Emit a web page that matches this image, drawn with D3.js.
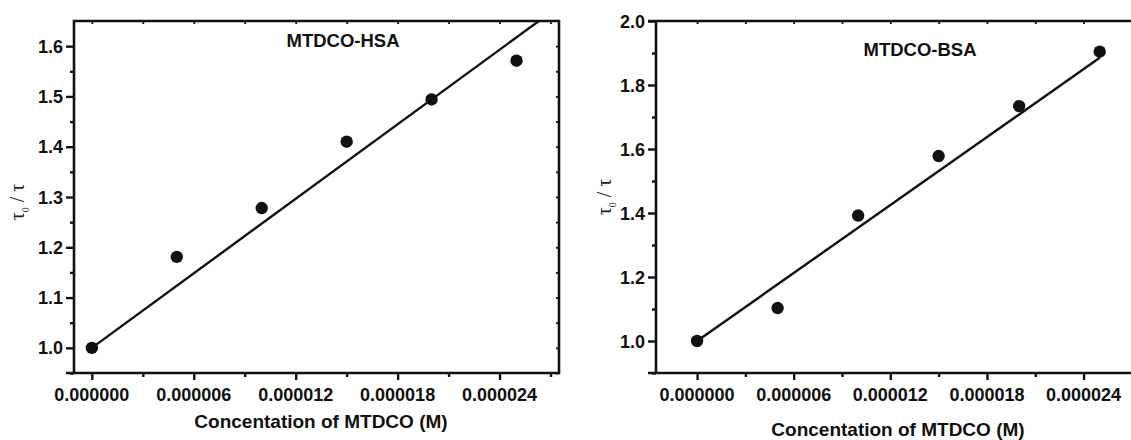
<!DOCTYPE html>
<html>
<head>
<meta charset="utf-8">
<script src="https://cdn.jsdelivr.net/npm/d3@7"></script>
<style>
  html, body { margin: 0; padding: 0; background: #fff; }
  svg { display: block; }
  svg text.lbl { font-family: "Liberation Sans", Arial, Helvetica, sans-serif; font-weight: 700; fill: #111; }
</style>
</head>
<body>
<svg id="chart" width="1131" height="440"></svg>
<script>
// MTDCO concentration (M) for each measurement
const concentration = [0, 5e-6, 10e-6, 15e-6, 20e-6, 25e-6];
// Lifetime ratio tau0/tau for each protein
const hsaRatio = [1.0, 1.181, 1.278, 1.410, 1.494, 1.571];
const bsaRatio = [1.0, 1.103, 1.392, 1.578, 1.734, 1.904];
// Stern–Volmer fit lines: tau0/tau = 1 + Ksv [Q]
const hsaKsv = 2.47e4;
const bsaKsv = 3.54e4;
// x tick values (labelled) and y tick values
const xMajorTicks = [0, 6e-6, 12e-6, 18e-6, 24e-6];
const xMinorTicks = [3e-6, 9e-6, 15e-6, 21e-6, 27e-6];
const hsaYMajor = [1.0, 1.1, 1.2, 1.3, 1.4, 1.5, 1.6];
const hsaYMinor = [0.95, 1.05, 1.15, 1.25, 1.35, 1.45, 1.55];
const bsaYMajor = [1.0, 1.2, 1.4, 1.6, 1.8, 2.0];
const bsaYMinor = [0.9, 1.1, 1.3, 1.5, 1.7, 1.9];

const INK = "#111";
const svg = d3.select("#chart");

function inkLines(sel, w) {
  sel.attr("stroke", INK).attr("stroke-width", w);
}
// tick marks only, drawn by d3's axis generator
function tickAxis(g, axis) {
  g.call(axis);
  g.select(".domain").remove();
  g.selectAll(".tick text").remove();
  inkLines(g.selectAll(".tick line"), 2.4);
  return g;
}

const panels = [
  {
    id: "hsa", title: "MTDCO-HSA", values: hsaRatio, ksv: hsaKsv,
    xDomain: [-1.05e-6, 27.5e-6], xRange: [74, 559],
    yDomain: [0.95, 1.65], yRange: [373, 21],
    yMajor: hsaYMajor, yMinor: hsaYMinor,
    fitEnd: 27.5e-6, boxRight: true,
    titlePos: [343, 47], xTitlePos: [321, 428], yTitlePos: [17, 202]
  },
  {
    id: "bsa", title: "MTDCO-BSA", values: bsaRatio, ksv: bsaKsv,
    xDomain: [-2.55e-6, 28e-6], xRange: [656, 1148],
    yDomain: [0.9, 2.0], yRange: [373, 21],
    yMajor: bsaYMajor, yMinor: bsaYMinor,
    fitEnd: 25e-6, boxRight: false,
    titlePos: [920, 56], xTitlePos: [898, 436], yTitlePos: [604, 197]
  }
];

panels.forEach(p => {
  const x = d3.scaleLinear().domain(p.xDomain).range(p.xRange);
  const y = d3.scaleLinear().domain(p.yDomain).range(p.yRange);
  const g = svg.append("g").attr("class", "panel-" + p.id);
  const [x0, x1] = p.xRange;
  const [yb, yt] = p.yRange;

  // clip region for the plot area
  const clipId = "clip-" + p.id;
  svg.append("clipPath").attr("id", clipId)
    .append("rect").attr("x", x0).attr("y", yt).attr("width", x1 - x0).attr("height", yb - yt);

  // bottom axis ticks
  tickAxis(g.append("g").attr("transform", `translate(0,${yb})`),
    d3.axisBottom(x).tickValues(xMajorTicks).tickSize(7));
  tickAxis(g.append("g").attr("transform", `translate(0,${yb})`),
    d3.axisBottom(x).tickValues(xMinorTicks.filter(v => x(v) <= x1 + 1)).tickSize(4));
  // bottom tick labels
  g.append("g").selectAll("text").data(xMajorTicks).join("text")
    .attr("class", "lbl").attr("font-size", 18)
    .attr("x", d => x(d)).attr("y", yb + 28).attr("text-anchor", "middle")
    .text(d => d.toFixed(6));

  // left axis ticks
  tickAxis(g.append("g").attr("transform", `translate(${x0},0)`),
    d3.axisLeft(y).tickValues(p.yMajor).tickSize(8));
  tickAxis(g.append("g").attr("transform", `translate(${x0},0)`),
    d3.axisLeft(y).tickValues(p.yMinor).tickSize(4));
  // left tick labels
  g.append("g").selectAll("text").data(p.yMajor).join("text")
    .attr("class", "lbl").attr("font-size", 18)
    .attr("x", x0 - 11).attr("y", d => y(d) + 6.5).attr("text-anchor", "end")
    .text(d3.format(".1f"));

  // top axis: small inward ticks
  inkLines(tickAxis(g.append("g").attr("transform", `translate(0,${yt})`),
    d3.axisBottom(x).tickValues(xMajorTicks.concat(xMinorTicks).filter(v => x(v) <= x1)).tickSize(3))
    .selectAll(".tick line"), 1.8);

  if (p.boxRight) {
    inkLines(tickAxis(g.append("g").attr("transform", `translate(${x1},0)`),
      d3.axisLeft(y).tickValues(p.yMajor.concat(p.yMinor)).tickSize(3))
      .selectAll(".tick line"), 1.8);
  }

  // frame lines
  const frame = g.append("g").attr("fill", "none");
  frame.append("line").attr("x1", x0).attr("x2", x0).attr("y1", yt - 1).attr("y2", yb + 1);
  frame.append("line").attr("x1", x0 - 8).attr("x2", x1 + 1).attr("y1", yb).attr("y2", yb);
  frame.append("line").attr("x1", x0 - (p.boxRight ? 1 : 8)).attr("x2", x1 + 1).attr("y1", yt).attr("y2", yt);
  if (p.boxRight) {
    frame.append("line").attr("x1", x1).attr("x2", x1).attr("y1", yt - 1).attr("y2", yb + 1);
  }
  inkLines(frame.selectAll("line"), 2.6);

  // fitted line
  const fit = [0, p.fitEnd].map(c => [c, 1 + p.ksv * c]);
  g.append("path")
    .attr("clip-path", `url(#${clipId})`)
    .attr("d", d3.line().x(d => x(d[0])).y(d => y(d[1]))(fit))
    .attr("stroke", INK).attr("stroke-width", 2.4).attr("fill", "none");

  // data points
  g.append("g").selectAll("circle")
    .data(concentration.map((c, i) => [c, p.values[i]]))
    .join("circle")
    .attr("cx", d => x(d[0])).attr("cy", d => y(d[1]))
    .attr("r", 6.2).attr("fill", INK);

  // panel title
  g.append("text").attr("class", "lbl").attr("font-size", 18.5)
    .attr("x", p.titlePos[0]).attr("y", p.titlePos[1]).attr("text-anchor", "middle")
    .text(p.title);

  // x axis title
  g.append("text").attr("class", "lbl").attr("font-size", 19)
    .attr("x", p.xTitlePos[0]).attr("y", p.xTitlePos[1]).attr("text-anchor", "middle")
    .text("Concentation of MTDCO (M)");

  // y axis title: tau0 / tau
  const yTitle = g.append("text")
    .attr("transform", `translate(${p.yTitlePos[0]},${p.yTitlePos[1]}) rotate(-90)`)
    .attr("text-anchor", "middle").attr("dy", "0.35em")
    .attr("font-family", "'Liberation Serif', 'DejaVu Serif', serif")
    .attr("font-size", 20).attr("fill", "#222");
  yTitle.append("tspan").text("τ");
  yTitle.append("tspan").attr("font-size", 10).attr("dy", 5).text("0");
  yTitle.append("tspan").attr("dy", -5).text(" / τ");
});
</script>
</body>
</html>
